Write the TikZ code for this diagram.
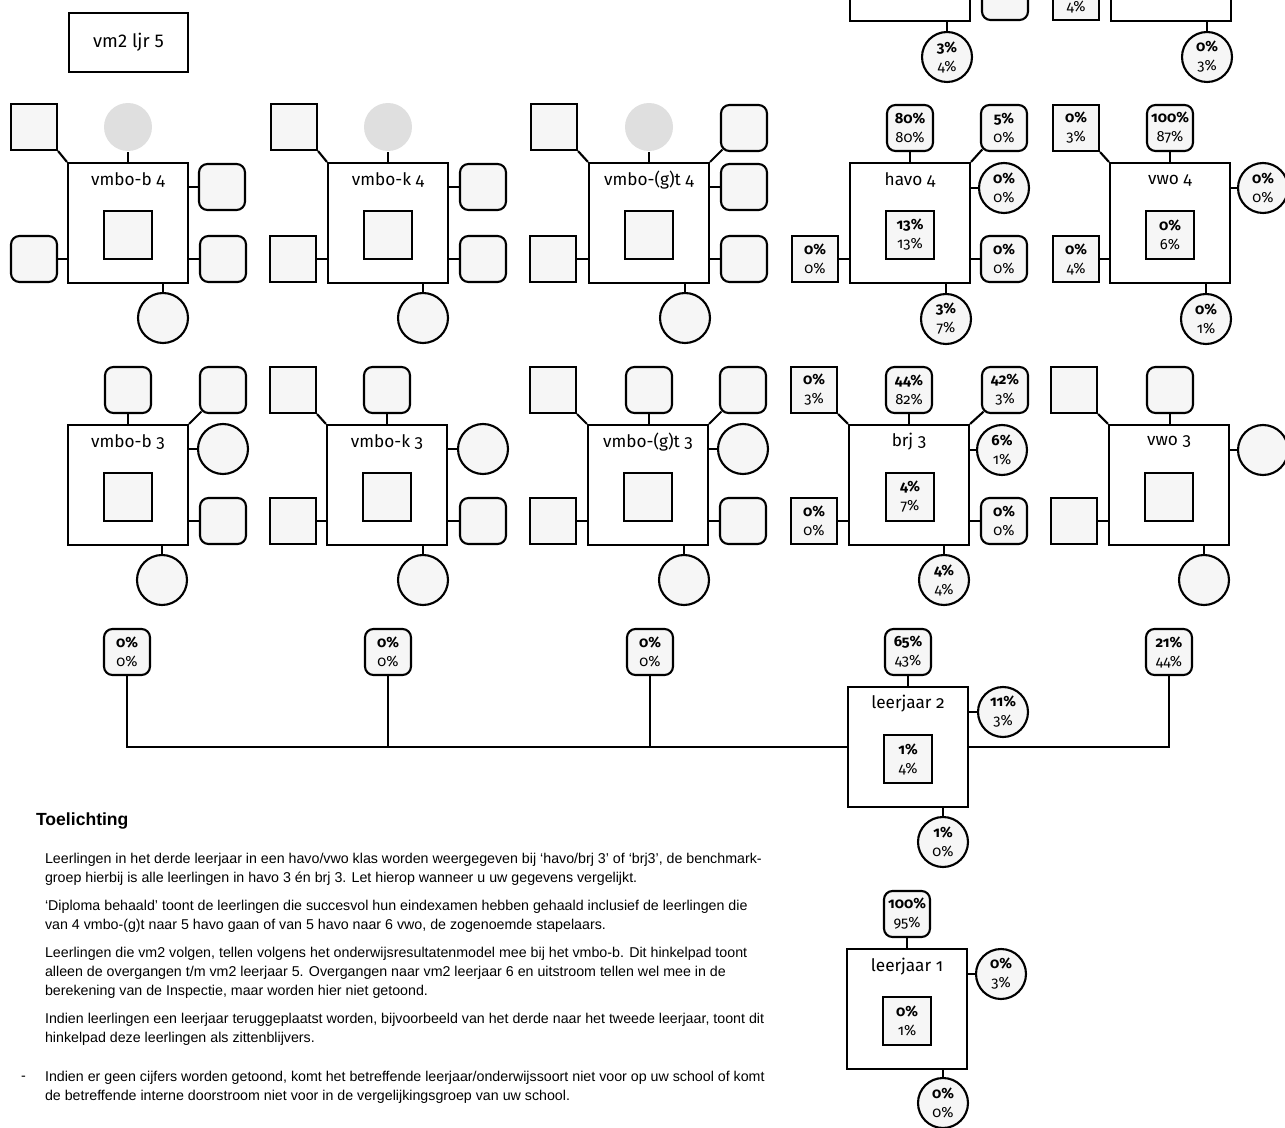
\documentclass[tikz,border=0pt]{standalone}
\usepackage{fontspec}
\setmainfont{Fira Sans}[Numbers=OldStyle]
\newfontfamily\titlefont{Fira Sans}[Numbers=Lining]
\newfontfamily\notefont{Liberation Sans}
\newcommand\pctfont{\fontsize{8.4}{10.8}\selectfont}
\newcommand\lblfont{\fontsize{9.8}{12}\selectfont}
\newcommand\pc[2]{{\bfseries #1\%}\\#2\%}

\begin{document}
\begin{tikzpicture}[x=0.02cm,y=-0.02cm,line width=1.2pt,
	box/.style={draw,fill=white,minimum size=2.4cm,inner sep=0pt},
	sq/.style={draw,fill=gray!7,minimum size=0.92cm,inner sep=0pt,font=\pctfont,align=center},
	rsq/.style={sq,rounded corners=0.17cm},
	circ/.style={draw,circle,fill=gray!7,minimum size=1cm,inner sep=0pt,font=\pctfont,align=center},
	ghost/.style={circle,fill=gray!25,minimum size=0.96cm},
	core/.style={sq,minimum size=0.96cm},
	lbl/.style={font=\lblfont},
	note/.style={font=\notefont\fontsize{8.1}{10.8}\selectfont,align=left,inner sep=0pt}]
	\clip (0,0) rectangle (1285,1128);
	\fill [white] (0,0) rectangle (1285,1128);

	\node [draw,minimum width=2.38cm,minimum height=1.18cm,font=\titlefont\fontsize{10.5}{12}\selectfont] (titel) at (128.5,42.5) {vm2 ljr 5};

	\node [box] (h5) at (910,-39) {};
	\node [rsq] (h5rb) at (1005,-3) {};
	\node [circ] (h5bot) at (947,57) {\pc{3}{4}};
	\draw (h5.east |- h5rb) -- (h5rb);
	\draw (h5.south -| h5bot) -- (h5bot);

	\node [box] (w5) at (1171,-39) {};
	\node [sq] (w5lb) at (1076,-3) {{\bfseries\phantom{0\%}}\\4\%};
	\node [circ] (w5bot) at (1207,57) {\pc{0}{3}};
	\draw (w5lb) -- (w5.west |- w5lb);
	\draw (w5.south -| w5bot) -- (w5bot);

	\node [box] (b4) at (128,223) {};
	\node [lbl] (b4l) at (128,180) {vmbo-b 4};
	\node [core] (b4in) at (128,235) {};
	\node [sq] (b4tl) at (34,127) {};
	\node [ghost] (b4t) at (128,127) {};
	\node [rsq] (b4rm) at (222,187) {};
	\node [rsq] (b4rb) at (223,259) {};
	\node [rsq] (b4lb) at (34,259) {};
	\node [circ] (b4bot) at (163,318) {};
	\draw (b4tl.south east) -- (b4.north west);
	\draw (b4t) -- (b4);
	\draw (b4.east |- b4rm) -- (b4rm);
	\draw (b4.east |- b4rb) -- (b4rb);
	\draw (b4lb) -- (b4.west |- b4lb);
	\draw (b4.south -| b4bot) -- (b4bot);

	\node [box] (k4) at (388,223) {};
	\node [lbl] (k4l) at (388,180) {vmbo-k 4};
	\node [core] (k4in) at (388,235) {};
	\node [sq] (k4tl) at (294,127) {};
	\node [ghost] (k4t) at (388,127) {};
	\node [rsq] (k4rm) at (483,187) {};
	\node [rsq] (k4rb) at (483,259) {};
	\node [sq] (k4lb) at (293,259) {};
	\node [circ] (k4bot) at (423,318) {};
	\draw (k4tl.south east) -- (k4.north west);
	\draw (k4t) -- (k4);
	\draw (k4.east |- k4rm) -- (k4rm);
	\draw (k4.east |- k4rb) -- (k4rb);
	\draw (k4lb) -- (k4.west |- k4lb);
	\draw (k4.south -| k4bot) -- (k4bot);

	\node [box] (g4) at (649,223) {};
	\node [lbl] (g4l) at (649,180) {vmbo-(g)t 4};
	\node [core] (g4in) at (649,235) {};
	\node [sq] (g4tl) at (554,127) {};
	\node [ghost] (g4t) at (649,127) {};
	\node [rsq] (g4tr) at (744,128) {};
	\node [rsq] (g4rm) at (744,187) {};
	\node [rsq] (g4rb) at (744,259) {};
	\node [sq] (g4lb) at (553,259) {};
	\node [circ] (g4bot) at (685,318) {};
	\draw (g4tl.south east) -- (g4.north west);
	\draw (g4t) -- (g4);
	\draw [shorten <=-2pt] (g4tr.south west) -- (g4.north east);
	\draw (g4.east |- g4rm) -- (g4rm);
	\draw (g4.east |- g4rb) -- (g4rb);
	\draw (g4lb) -- (g4.west |- g4lb);
	\draw (g4.south -| g4bot) -- (g4bot);

	\node [box] (h4) at (910,223) {};
	\node [lbl] (h4l) at (910,180) {havo 4};
	\node [core] (h4in) at (910,235) {\pc{13}{13}};
	\node [rsq] (h4t) at (910,128) {\pc{80}{80}};
	\node [rsq] (h4tr) at (1004,128) {\pc{5}{0}};
	\node [circ] (h4rm) at (1004,188) {\pc{0}{0}};
	\node [rsq] (h4rb) at (1004,259) {\pc{0}{0}};
	\node [sq] (h4lb) at (815,259) {\pc{0}{0}};
	\node [circ] (h4bot) at (946,319) {\pc{3}{7}};
	\draw (h4t) -- (h4);
	\draw [shorten <=-2pt] (h4tr.south west) -- (h4.north east);
	\draw (h4.east |- h4rm) -- (h4rm);
	\draw (h4.east |- h4rb) -- (h4rb);
	\draw (h4lb) -- (h4.west |- h4lb);
	\draw (h4.south -| h4bot) -- (h4bot);

	\node [box] (w4) at (1170,223) {};
	\node [lbl] (w4l) at (1170,180) {vwo 4};
	\node [core] (w4in) at (1170,235) {\pc{0}{6}};
	\node [sq] (w4tl) at (1076,128) {\pc{0}{3}};
	\node [rsq] (w4t) at (1170,128) {\pc{100}{87}};
	\node [circ] (w4rm) at (1263,188) {\pc{0}{0}};
	\node [sq] (w4lb) at (1076,259) {\pc{0}{4}};
	\node [circ] (w4bot) at (1206,319) {\pc{0}{1}};
	\draw (w4tl.south east) -- (w4.north west);
	\draw (w4t) -- (w4);
	\draw (w4.east |- w4rm) -- (w4rm);
	\draw (w4lb) -- (w4.west |- w4lb);
	\draw (w4.south -| w4bot) -- (w4bot);

	\node [box] (b3) at (128,485) {};
	\node [lbl] (b3l) at (128,442) {vmbo-b 3};
	\node [core] (b3in) at (128,497) {};
	\node [rsq] (b3t) at (128,390) {};
	\node [rsq] (b3tr) at (223,390) {};
	\node [circ] (b3rm) at (223,449) {};
	\node [rsq] (b3rb) at (223,521) {};
	\node [circ] (b3bot) at (162,580) {};
	\draw (b3t) -- (b3);
	\draw [shorten <=-2pt] (b3tr.south west) -- (b3.north east);
	\draw (b3.east |- b3rm) -- (b3rm);
	\draw (b3.east |- b3rb) -- (b3rb);
	\draw (b3.south -| b3bot) -- (b3bot);

	\node [box] (k3) at (387,485) {};
	\node [lbl] (k3l) at (387,442) {vmbo-k 3};
	\node [core] (k3in) at (387,497) {};
	\node [sq] (k3tl) at (293,390) {};
	\node [rsq] (k3t) at (387,390) {};
	\node [circ] (k3rm) at (483,449) {};
	\node [rsq] (k3rb) at (483,521) {};
	\node [sq] (k3lb) at (293,521) {};
	\node [circ] (k3bot) at (423,580) {};
	\draw (k3tl.south east) -- (k3.north west);
	\draw (k3t) -- (k3);
	\draw (k3.east |- k3rm) -- (k3rm);
	\draw (k3.east |- k3rb) -- (k3rb);
	\draw (k3lb) -- (k3.west |- k3lb);
	\draw (k3.south -| k3bot) -- (k3bot);

	\node [box] (g3) at (648,485) {};
	\node [lbl] (g3l) at (648,442) {vmbo-(g)t 3};
	\node [core] (g3in) at (648,497) {};
	\node [sq] (g3tl) at (553,390) {};
	\node [rsq] (g3t) at (649,390) {};
	\node [rsq] (g3tr) at (743,390) {};
	\node [circ] (g3rm) at (743,449) {};
	\node [rsq] (g3rb) at (743,521) {};
	\node [sq] (g3lb) at (553,521) {};
	\node [circ] (g3bot) at (684,580) {};
	\draw (g3tl.south east) -- (g3.north west);
	\draw (g3t) -- (g3t |- g3.north);
	\draw [shorten <=-2pt] (g3tr.south west) -- (g3.north east);
	\draw (g3.east |- g3rm) -- (g3rm);
	\draw (g3.east |- g3rb) -- (g3rb);
	\draw (g3lb) -- (g3.west |- g3lb);
	\draw (g3.south -| g3bot) -- (g3bot);

	\node [box] (r3) at (909,485) {};
	\node [lbl] (r3l) at (909,442) {brj 3};
	\node [core] (r3in) at (910,497) {\pc{4}{7}};
	\node [sq] (r3tl) at (814,390) {\pc{0}{3}};
	\node [rsq] (r3t) at (909,390) {\pc{44}{82}};
	\node [rsq] (r3tr) at (1005,390) {\pc{42}{3}};
	\node [circ] (r3rm) at (1002,450) {\pc{6}{1}};
	\node [rsq] (r3rb) at (1004,521) {\pc{0}{0}};
	\node [sq] (r3lb) at (814,521) {\pc{0}{0}};
	\node [circ] (r3bot) at (944,580) {\pc{4}{4}};
	\draw (r3tl.south east) -- (r3.north west);
	\draw (r3t) -- (r3);
	\draw [shorten <=-2pt] (r3tr.south west) -- (r3.north east);
	\draw (r3.east |- r3rm) -- (r3rm);
	\draw (r3.east |- r3rb) -- (r3rb);
	\draw (r3lb) -- (r3.west |- r3lb);
	\draw (r3.south -| r3bot) -- (r3bot);

	\node [box] (w3) at (1169,485) {};
	\node [lbl] (w3l) at (1169,442) {vwo 3};
	\node [core] (w3in) at (1169,497) {};
	\node [sq] (w3tl) at (1074,390) {};
	\node [rsq] (w3t) at (1170,390) {};
	\node [circ] (w3rm) at (1263,450) {};
	\node [sq] (w3lb) at (1074,521) {};
	\node [circ] (w3bot) at (1204,580) {};
	\draw (w3tl.south east) -- (w3.north west);
	\draw (w3t) -- (w3t |- w3.north);
	\draw (w3.east |- w3rm) -- (w3rm);
	\draw (w3lb) -- (w3.west |- w3lb);
	\draw (w3.south -| w3bot) -- (w3bot);

	\node [box] (l2) at (908,747) {};
	\node [lbl] (l2l) at (908,704) {leerjaar 2};
	\node [core] (l2in) at (908,759) {\pc{1}{4}};
	\node [rsq] (l2t) at (908,652) {\pc{65}{43}};
	\node [circ] (l2rm) at (1003,712) {\pc{11}{3}};
	\node [circ] (l2bot) at (943,842) {\pc{1}{0}};
	\node [rsq] (v2b) at (127,652) {\pc{0}{0}};
	\node [rsq] (v2k) at (388,652) {\pc{0}{0}};
	\node [rsq] (v2g) at (650,652) {\pc{0}{0}};
	\node [rsq] (v2w) at (1169,652) {\pc{21}{44}};
	\draw (l2t) -- (l2);
	\draw (l2.east |- l2rm) -- (l2rm);
	\draw (l2.south -| l2bot) -- (l2bot);
	\draw (v2b) -- (v2b |- l2) -- (l2.west);
	\draw (v2k) -- (v2k |- l2);
	\draw (v2g) -- (v2g |- l2);
	\draw (l2.east) -- (v2w |- l2) -- (v2w);

	\node [box] (l1) at (907,1009) {};
	\node [lbl] (l1l) at (907,967) {leerjaar 1};
	\node [core] (l1in) at (907,1021) {\pc{0}{1}};
	\node [rsq] (l1t) at (907,914) {\pc{100}{95}};
	\node [circ] (l1rm) at (1001,974) {\pc{0}{3}};
	\node [circ] (l1bot) at (943,1103) {\pc{0}{0}};
	\draw (l1t) -- (l1);
	\draw (l1.east |- l1rm) -- (l1rm);
	\draw (l1.south -| l1bot) -- (l1bot);

	\node [anchor=west,inner sep=0pt,font=\notefont\fontsize{10}{12}\selectfont\bfseries] (kop) at (35,821) {Toelichting};
	\node [note,anchor=north west] (uitleg) at (44,852) {Leerlingen in het derde leerjaar in een havo/vwo klas worden weergegeven bij ‘havo/brj 3’ of ‘brj3’, de benchmark-\\
		groep hierbij is alle leerlingen in havo 3 én brj 3. Let hierop wanneer u uw gegevens vergelijkt.\\[5.2pt]
		‘Diploma behaald’ toont de leerlingen die succesvol hun eindexamen hebben gehaald inclusief de leerlingen die\\
		van 4 vmbo-(g)t naar 5 havo gaan of van 5 havo naar 6 vwo, de zogenoemde stapelaars.\\[5.2pt]
		Leerlingen die vm2 volgen, tellen volgens het onderwijsresultatenmodel mee bij het vmbo-b. Dit hinkelpad toont\\
		alleen de overgangen t/m vm2 leerjaar 5. Overgangen naar vm2 leerjaar 6 en uitstroom tellen wel mee in de\\
		berekening van de Inspectie, maar worden hier niet getoond.\\[5.2pt]
		Indien leerlingen een leerjaar teruggeplaatst worden, bijvoorbeeld van het derde naar het tweede leerjaar, toont dit\\
		hinkelpad deze leerlingen als zittenblijvers.\\[11.4pt]
		Indien er geen cijfers worden getoond, komt het betreffende leerjaar/onderwijssoort niet voor op uw school of komt\\
		de betreffende interne doorstroom niet voor in de vergelijkingsgroep van uw school.};
	\node [note,anchor=west] (streep) at (20,1078) {-};
\end{tikzpicture}
\end{document}
